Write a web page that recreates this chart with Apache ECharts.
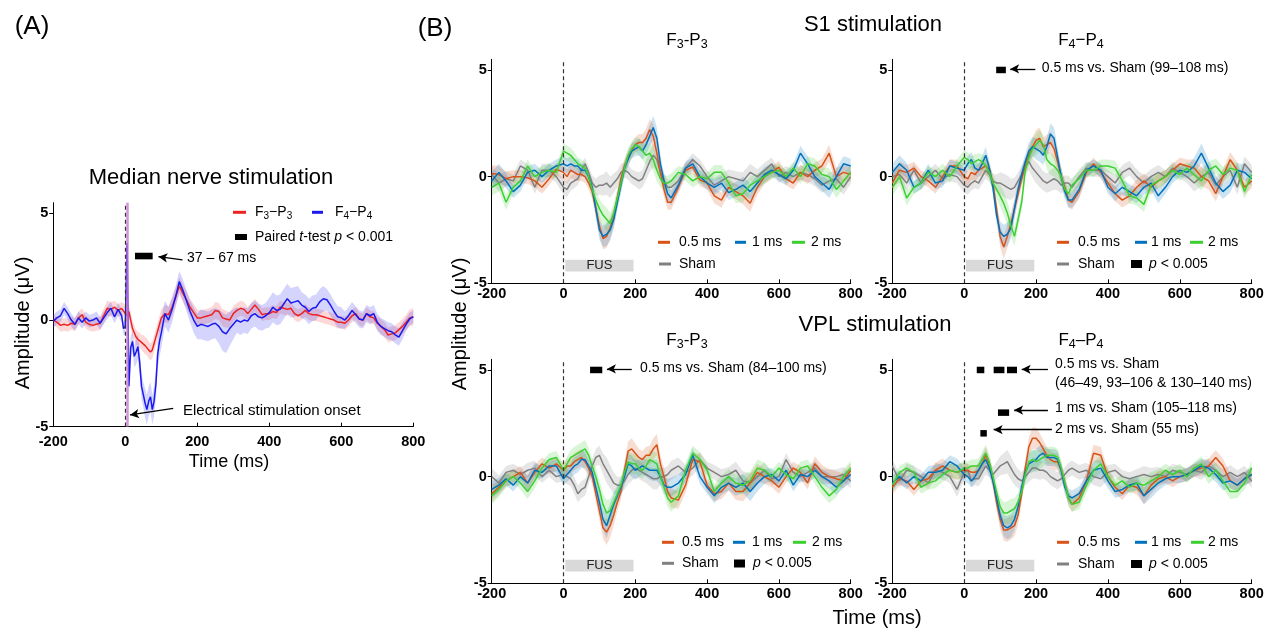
<!DOCTYPE html>
<html><head><meta charset="utf-8">
<script src="https://cdn.jsdelivr.net/npm/echarts@6/dist/echarts.min.js"></script>
<style>html,body{margin:0;padding:0;background:#fff}#c{width:1277px;height:628px}</style>
</head><body><div id="c"></div>
<script>
// ---------- Panel A: median nerve stimulation ----------
const timesA = [-200,-190,-180,-170,-160,-150,-140,-130,-120,-110,-100,-90,-80,-70,-60,-50,-40,-30,-20,-10,
  -5,0,5,10,15,20,25,30,35,40,45,50,55,60,65,70,75,80,85,90,95,100,
  110,120,130,140,150,160,170,180,190,200,210,220,230,240,250,260,270,280,290,300,
  310,320,330,340,350,360,370,380,390,400,410,420,430,440,450,460,470,480,490,500,
  510,520,530,540,550,560,570,580,590,600,610,620,630,640,650,660,670,680,690,700,
  710,720,730,740,750,760,770,780,790,800];
const medF3P3 = [0,-0.1,-0.25,-0.2,-0.25,-0.15,-0.2,0.1,0.25,-0.1,-0.2,-0.25,-0.2,-0.15,0.2,0.55,0.5,0.6,0.45,0.55,
  0.5,0.3,0.2,0.4,0.0,-0.4,-0.6,-0.8,-0.9,-0.95,-1.05,-1.1,-1.2,-1.25,-1.4,-1.5,-1.4,-1.1,-0.8,-0.5,-0.2,0.1,
  0.3,0.25,0.6,1.1,1.6,1.25,0.95,0.6,0.35,0.1,0.1,0.15,0.2,0.25,0.45,0.4,0.1,0.05,0.0,0.3,
  0.45,0.55,0.5,0.3,0.5,0.7,0.5,0.25,0.3,0.3,0.4,0.35,0.6,0.55,0.5,0.55,0.3,0.2,0.3,0.45,
  0.3,0.25,0.25,0.2,0.15,0.1,0.05,0.0,-0.1,-0.1,-0.15,0.0,0.2,0.3,0.05,0.0,0.3,0.15,0.1,-0.15,
  -0.3,-0.45,-0.7,-0.65,-0.6,-0.45,-0.3,-0.1,0.1,0.15];
const medF4P4 = [-0.05,0.1,0.2,0.55,0.3,0.0,-0.2,0.1,-0.1,0.1,-0.05,0.0,0.1,-0.15,0.1,0.35,0.55,0.15,0.5,0.2,
  -0.4,-0.3,3.6,-3.1,-1.3,-1.0,-1.7,-1.5,-1.25,-2.0,-3.1,-3.5,-3.9,-4.2,-3.8,-3.6,-4.2,-3.8,-3.0,-1.6,-1.0,-0.6,
  0.3,0.0,0.5,1.1,1.8,1.4,0.9,0.4,0.0,-0.3,-0.2,-0.25,-0.3,-0.2,-0.15,-0.3,-0.55,-0.65,-0.4,-0.2,
  0.0,-0.1,0.0,-0.05,0.2,0.3,0.15,0.1,0.2,0.35,0.6,0.45,0.5,0.75,1.0,0.8,0.85,0.9,0.7,0.6,
  0.4,0.55,0.6,0.85,1.0,0.95,0.7,0.4,0.15,0.1,0.0,0.2,0.45,0.25,0.05,0.0,0.3,0.2,0.3,-0.1,
  -0.3,-0.4,-0.5,-0.55,-0.7,-0.8,-0.5,-0.2,0.05,0.15];
const semMedF3P3 = [0.25,0.25,0.3,0.3,0.3,0.3,0.3,0.3,0.3,0.3,0.3,0.3,0.3,0.3,0.35,0.35,0.35,0.3,0.3,0.3,
  0.3,0.3,0.35,0.35,0.35,0.35,0.35,0.35,0.35,0.35,0.35,0.4,0.4,0.4,0.4,0.4,0.4,0.4,0.4,0.4,0.4,0.4,
  0.4,0.4,0.4,0.4,0.4,0.4,0.4,0.4,0.4,0.4,0.35,0.35,0.35,0.35,0.4,0.4,0.4,0.4,0.35,0.35,
  0.35,0.35,0.35,0.3,0.3,0.3,0.3,0.3,0.3,0.3,0.3,0.3,0.3,0.3,0.3,0.3,0.3,0.3,0.3,0.3,
  0.3,0.3,0.3,0.3,0.3,0.3,0.3,0.3,0.3,0.3,0.3,0.3,0.3,0.3,0.3,0.3,0.3,0.3,0.3,0.3,
  0.35,0.35,0.35,0.35,0.35,0.35,0.35,0.35,0.4,0.4];
const semMedF4P4 = [0.3,0.3,0.3,0.3,0.3,0.3,0.3,0.3,0.3,0.3,0.3,0.3,0.3,0.3,0.3,0.3,0.3,0.3,0.3,0.3,
  0.3,0.4,0.5,0.5,0.5,0.5,0.5,0.6,0.6,0.6,0.6,0.6,0.7,0.7,0.7,0.7,0.7,0.7,0.7,0.7,0.7,0.7,
  0.6,0.6,0.6,0.5,0.5,0.5,0.5,0.5,0.6,0.6,0.7,0.7,0.7,0.7,0.7,0.8,0.9,0.9,0.8,0.7,
  0.6,0.6,0.6,0.6,0.6,0.6,0.6,0.6,0.6,0.7,0.7,0.7,0.7,0.7,0.7,0.7,0.7,0.7,0.6,0.6,
  0.6,0.6,0.6,0.6,0.6,0.5,0.5,0.5,0.5,0.5,0.4,0.4,0.4,0.4,0.4,0.4,0.4,0.4,0.4,0.4,
  0.4,0.4,0.4,0.4,0.4,0.4,0.4,0.3,0.3,0.3];
const sigMed = [[27, 76, 3.0]];

// ---------- Panel B: FUS stimulation ----------
const timesB = [-200,-180,-160,-140,-120,-100,-80,-60,-40,-20,
  0,10,20,30,40,50,60,70,80,90,100,110,120,130,140,150,160,170,180,190,200,210,220,230,240,250,260,270,280,290,300,
  320,340,360,380,400,420,440,460,480,500,520,540,560,580,600,620,640,660,680,700,720,740,760,780,800];

// S1 stimulation, F3-P3
const s1F3_05 = [0.15,0.1,-0.1,0.0,0.0,-0.05,-0.2,-0.5,-0.1,0.35,
  0.2,0.0,0.3,0.2,0.1,0.1,0.0,-0.3,-0.7,-1.5,-2.3,-2.9,-2.8,-2.4,-1.9,-1.0,-0.1,0.5,0.9,1.2,1.5,1.6,1.6,1.8,2.2,1.9,1.1,0.2,-0.6,-1.2,-1.2,
  -0.5,0.3,0.45,-0.15,-0.3,-0.9,-1.1,-0.5,-0.7,-0.9,-1.25,-0.5,0.0,0.2,0.45,-0.1,-0.3,0.2,0.0,0.3,0.5,1.1,0.0,0.2,0.1];
const s1F3_1 = [-0.2,0.2,-0.2,-0.7,-0.4,0.2,0.3,0.0,0.3,0.5,
  0.6,0.5,0.6,0.5,0.5,0.3,0.3,0.0,-0.5,-1.5,-2.5,-2.8,-2.7,-2.5,-2.0,-1.2,-0.4,0.4,0.8,1.2,1.3,1.4,1.2,1.5,1.9,2.3,1.8,0.6,-0.2,-0.8,-1.0,
  -0.4,0.4,0.6,0.0,-0.3,-0.5,-0.3,-0.75,-0.6,-0.4,-0.7,-0.3,0.1,0.3,0.1,-0.1,0.3,1.1,0.6,0.0,-0.3,-0.6,0.0,0.6,0.5];
const s1F3_2 = [-0.5,-0.3,-1.2,-0.5,-0.2,0.5,0.0,0.2,0.3,0.2,
  1.2,1.1,1.0,0.8,0.6,0.5,0.4,0.0,-0.6,-1.1,-1.5,-1.8,-2.0,-2.2,-1.7,-1.0,-0.3,0.4,1.0,1.3,1.5,1.4,1.2,1.0,1.1,0.8,0.3,-0.1,-0.3,-0.3,-0.2,
  0.2,0.1,-0.2,0.0,-0.1,0.2,0.2,-0.3,-0.9,-0.8,-0.4,-0.2,0.0,0.2,0.3,0.0,0.4,0.0,0.6,0.5,0.1,0.0,-0.6,-0.2,0.2];
const s1F3_sham = [0.1,-0.3,-0.1,-0.2,0.5,0.3,-0.5,0.3,0.3,0.0,
  -0.5,-0.6,-0.3,-0.2,-0.1,0.3,0.6,0.2,-0.3,-0.5,-0.4,-0.4,-0.3,-0.5,-0.3,-0.1,0.2,0.3,0.2,0.0,-0.1,-0.2,-0.1,0.3,0.7,1.0,0.8,0.2,-0.2,-0.5,-0.5,
  -0.2,0.4,0.8,0.5,0.0,-0.4,-0.2,0.0,-0.1,-0.2,0.2,0.0,0.3,0.6,0.0,0.2,0.0,0.2,0.1,-0.1,-0.4,-0.2,-0.1,-0.5,0.0];
const s1F3_sem = [0.4,0.4,0.35,0.3,0.3,0.3,0.3,0.3,0.3,0.3,
  0.35,0.35,0.35,0.35,0.3,0.3,0.3,0.3,0.35,0.4,0.45,0.5,0.55,0.5,0.45,0.4,0.4,0.35,0.35,0.35,0.35,0.4,0.4,0.45,0.5,0.55,0.5,0.4,0.35,0.35,0.35,
  0.3,0.3,0.3,0.3,0.3,0.35,0.35,0.35,0.35,0.4,0.4,0.35,0.35,0.3,0.3,0.3,0.3,0.35,0.35,0.35,0.35,0.4,0.4,0.35,0.35];

// S1 stimulation, F4-P4
const s1F4_05 = [-0.3,0.3,0.2,0.4,0.0,-0.2,-0.5,0.0,0.5,0.5,
  0.0,-0.1,0.2,0.1,0.3,0.4,0.5,0.3,-0.3,-1.5,-2.8,-3.3,-2.8,-2.2,-1.5,-0.8,-0.1,0.5,1.0,1.4,1.7,1.8,1.4,1.5,1.6,1.3,0.7,0.0,-0.5,-1.1,-1.2,
  -0.7,0.2,0.6,0.2,-0.3,-0.8,-1.1,-0.9,-0.5,-0.2,-0.5,-0.2,0.0,0.3,0.6,0.5,0.4,0.0,-0.2,-0.8,0.0,0.8,0.3,-0.5,-0.2];
const s1F4_1 = [0.2,0.6,0.3,-0.5,-0.3,0.3,-0.3,-0.2,0.5,0.4,
  0.3,0.6,0.8,0.4,0.3,0.6,1.0,0.4,-0.5,-1.8,-2.6,-2.8,-2.7,-2.4,-1.5,-0.6,0.1,0.7,1.2,1.4,1.3,1.2,1.0,1.4,2.0,1.8,0.9,0.0,-0.7,-1.1,-1.1,
  -0.6,0.3,0.5,0.3,-0.5,-0.8,-0.5,-0.7,-0.9,-0.5,-0.3,-0.9,-0.5,0.0,0.3,0.2,0.5,1.1,0.4,-0.3,-0.7,-0.4,0.3,0.2,-0.1];
const s1F4_2 = [-0.5,0.0,-1.0,-0.5,-0.3,0.2,0.0,0.3,0.0,0.5,
  0.9,0.8,0.6,0.7,0.8,0.7,0.5,0.2,-0.3,-0.6,-0.9,-1.25,-1.7,-2.3,-2.8,-2.0,-1.2,0.3,0.9,1.3,1.5,1.7,1.5,0.8,0.6,0.5,0.3,0.0,-0.6,-0.8,-0.4,
  -0.1,0.3,0.3,0.5,0.5,0.4,-0.2,-0.9,-1.0,-1.3,-0.4,-0.2,0.0,0.3,0.1,0.4,0.1,-0.2,0.3,0.5,0.1,0.4,0.3,-0.7,0.1];
const s1F4_sham = [0.0,0.1,-0.3,0.3,-0.3,0.0,0.3,-0.1,0.1,0.0,
  -0.4,-0.5,-0.3,-0.2,-0.3,0.0,0.3,0.1,-0.2,-0.3,-0.3,-0.4,-0.5,-0.6,-0.5,-0.2,0.1,0.5,0.7,0.4,0.2,0.0,-0.2,-0.3,-0.2,-0.1,-0.2,-0.4,-0.3,-0.3,-0.5,
  0.0,0.4,0.3,0.3,0.0,-0.3,0.2,0.4,0.0,-0.3,0.0,0.2,0.0,0.4,0.2,0.0,-0.3,0.0,0.2,-0.4,0.0,0.3,-0.5,0.6,0.2];
const s1F4_sem = [0.4,0.4,0.35,0.3,0.3,0.3,0.3,0.3,0.3,0.3,
  0.35,0.35,0.35,0.35,0.3,0.35,0.4,0.35,0.35,0.4,0.5,0.55,0.55,0.5,0.45,0.4,0.4,0.35,0.4,0.45,0.5,0.5,0.45,0.45,0.5,0.5,0.45,0.4,0.35,0.35,0.35,
  0.35,0.3,0.3,0.3,0.3,0.35,0.35,0.35,0.35,0.35,0.35,0.35,0.3,0.3,0.3,0.3,0.4,0.45,0.4,0.35,0.35,0.35,0.35,0.35,0.35];

// VPL stimulation, F3-P3
const vplF3_05 = [-0.8,-0.5,-0.2,0.0,0.2,-0.3,0.2,0.6,0.4,0.6,
  0.3,0.5,0.5,0.7,0.8,0.9,0.7,0.4,0.0,-0.8,-1.6,-2.4,-2.6,-2.3,-1.8,-1.2,-0.7,0.3,1.2,1.3,1.1,0.9,0.8,1.0,1.0,1.3,1.5,0.6,0.0,-0.7,-1.0,
  -1.1,-0.4,0.8,0.7,-0.4,-0.8,-0.7,-0.3,-0.7,-0.7,-0.3,0.2,0.0,-0.2,-0.5,0.0,0.4,0.2,-0.3,0.6,0.2,0.0,-0.1,-0.2,0.3];
const vplF3_1 = [-0.6,-0.4,-0.1,-0.4,0.0,-0.3,0.3,0.2,0.5,0.5,
  -0.1,0.1,0.3,0.5,0.6,0.8,0.8,0.5,0.2,-0.5,-1.2,-2.0,-2.3,-1.8,-1.3,-0.9,-0.5,0.0,0.6,0.5,0.3,0.4,0.5,0.4,0.3,0.3,0.3,0.0,-0.4,-0.5,-0.5,
  -0.3,0.1,1.0,0.0,-0.5,-0.9,-0.5,-0.3,-0.5,-0.3,-0.7,-0.3,0.0,0.1,-0.2,0.3,-0.4,0.1,0.0,0.3,0.0,-0.2,-0.5,-0.2,0.1];
const vplF3_2 = [-0.9,-0.6,-0.2,0.0,-0.3,-0.7,-0.2,0.4,0.8,0.9,
  0.3,0.6,0.9,1.0,1.1,1.2,1.3,1.0,0.5,0.0,-0.6,-1.3,-1.7,-1.6,-1.2,-0.8,-0.4,0.2,0.7,0.6,0.6,0.4,0.3,0.5,0.8,0.7,0.6,0.0,-0.5,-1.0,-1.2,
  -0.9,0.3,1.1,0.8,0.3,-0.7,-0.3,0.0,-0.3,-0.4,-0.2,0.4,0.3,0.0,0.4,0.1,-0.1,0.4,0.5,0.0,-0.5,-0.9,-0.6,0.0,0.4];
const vplF3_sham = [0.0,-0.3,0.2,0.3,0.1,0.3,0.4,0.0,0.3,0.0,
  0.1,0.0,-0.1,-0.4,-0.8,-0.6,-0.5,0.0,0.5,0.9,1.0,0.6,0.3,0.0,-0.3,-0.4,-0.4,-0.2,0.1,0.3,0.4,0.3,0.2,0.1,0.0,-0.1,-0.1,0.0,0.0,0.1,0.3,
  0.5,0.2,0.4,0.8,0.4,0.2,0.0,0.1,0.3,-0.2,-0.3,0.0,0.3,-0.1,0.0,0.8,0.2,0.0,0.2,0.4,0.0,0.0,0.0,0.1,-0.2];
const vplF3_sem = [0.4,0.35,0.3,0.3,0.3,0.35,0.35,0.3,0.3,0.3,
  0.3,0.35,0.35,0.4,0.4,0.4,0.4,0.35,0.35,0.4,0.45,0.5,0.6,0.55,0.5,0.4,0.4,0.4,0.45,0.5,0.45,0.4,0.4,0.4,0.45,0.5,0.5,0.4,0.4,0.4,0.45,
  0.4,0.35,0.35,0.35,0.3,0.35,0.35,0.35,0.4,0.45,0.45,0.4,0.35,0.3,0.3,0.3,0.3,0.3,0.3,0.35,0.35,0.35,0.35,0.35,0.35];

// VPL stimulation, F4-P4
const vplF4_05 = [-0.5,-0.1,-0.2,-0.6,-0.2,-0.1,0.3,0.5,0.3,0.2,
  0.3,0.3,0.2,0.2,0.3,0.6,1.0,0.6,-0.2,-1.2,-2.0,-2.5,-2.5,-2.4,-2.3,-1.8,-0.8,0.4,1.4,1.8,1.8,1.6,1.3,1.0,0.8,0.7,0.7,0.3,-0.3,-1.0,-1.3,
  -1.0,-0.2,1.1,1.0,0.0,-0.5,-0.8,-0.4,-0.5,-0.9,-0.4,-0.1,0.0,-0.2,0.0,0.1,0.3,0.4,0.5,0.9,0.5,-0.2,-0.4,-0.1,0.1];
const vplF4_1 = [-0.3,0.0,-0.3,0.0,-0.2,0.2,0.2,0.3,0.7,0.5,
  0.1,0.0,-0.2,0.0,0.3,0.6,0.8,0.4,-0.2,-1.0,-1.8,-2.3,-2.4,-2.3,-2.0,-1.4,-0.5,0.2,0.6,0.7,0.8,1.0,1.1,0.9,0.9,0.9,0.8,0.3,-0.5,-0.9,-1.0,
  -0.8,-0.2,0.3,0.4,-0.2,-0.7,-0.6,-0.4,-0.3,-0.9,-0.6,-0.3,-0.1,0.0,0.0,0.1,0.3,0.5,0.4,0.1,-0.3,-0.2,-0.4,-0.1,0.1];
const vplF4_2 = [-0.4,0.2,0.4,0.2,-0.5,-0.3,-0.2,0.1,0.3,0.2,
  0.4,0.4,0.5,0.5,0.5,0.8,1.1,0.7,0.0,-0.7,-1.4,-1.7,-1.7,-1.6,-1.5,-1.2,-0.7,0.1,0.7,0.8,0.7,0.8,0.9,1.0,1.0,1.0,0.9,0.4,-0.3,-1.0,-1.3,
  -1.2,-0.4,0.3,0.6,0.0,-0.4,-0.2,-0.5,-0.3,-0.4,-0.2,0.0,0.3,0.1,0.3,0.0,0.4,0.6,0.0,0.3,-0.2,-0.7,-0.7,-0.3,0.4];
const vplF4_sham = [0.5,-0.2,0.3,0.2,0.0,-0.3,0.3,0.2,0.0,-0.6,
  0.2,0.3,-0.2,-0.1,-0.1,0.2,0.5,0.3,0.1,0.3,0.5,0.6,0.7,0.4,0.1,-0.1,-0.2,0.0,0.2,0.4,0.4,0.3,0.3,0.2,0.0,-0.1,-0.2,-0.1,0.1,0.3,0.4,
  0.2,0.3,0.0,-0.1,0.2,0.3,0.0,-0.1,0.0,0.1,0.0,0.1,0.0,0.3,0.2,0.1,0.3,0.2,0.5,0.3,0.0,0.2,0.0,0.2,-0.2];
const vplF4_sem = [0.35,0.3,0.3,0.3,0.3,0.3,0.35,0.35,0.3,0.35,
  0.35,0.3,0.3,0.3,0.35,0.4,0.4,0.35,0.35,0.4,0.45,0.5,0.55,0.55,0.5,0.45,0.4,0.4,0.45,0.5,0.5,0.45,0.4,0.4,0.4,0.4,0.4,0.35,0.35,0.35,0.35,
  0.35,0.35,0.4,0.4,0.35,0.3,0.3,0.3,0.35,0.4,0.4,0.35,0.3,0.3,0.3,0.3,0.3,0.35,0.35,0.35,0.35,0.35,0.3,0.3,0.35];

// significance bars [start ms, end ms, amplitude]
const sigS1F4 = [[89, 116, 5.0]];
const sigVplF3 = [[74, 108, 5.0]];
const sigVplF4 = [[35, 56, 5.0], [82, 112, 5.0], [119, 147, 5.0], [94, 125, 3.0], [45, 63, 2.03]];
const fusWindow = [5, 195];
const yTicks = [-5, 0, 5];

// ---------- rendering ----------
const FONT = '"Liberation Sans", Arial, Helvetica, sans-serif';
const C = {o:'#D95319', b:'#0072BD', g:'#3CCF32', s:'#808080', rA:'#EE2222', bA:'#1A1AF0'};
const F = {o:'rgba(217,83,25,0.2)', b:'rgba(0,114,189,0.2)', g:'rgba(60,207,50,0.2)', s:'rgba(128,128,128,0.2)',
  rA:'rgba(238,60,60,0.2)', bA:'rgba(60,60,240,0.22)'};

const grids = [
  {left:53.3, top:202.7, width:360, height:224},
  {left:491.7, top:59.3, width:359, height:224},
  {left:892.3, top:59.3, width:359.4, height:224},
  {left:491.7, top:359.3, width:359, height:224},
  {left:892.3, top:359.3, width:359.4, height:224}
];

function xAx(gi, margin) {
  return {type:'value', gridIndex:gi, min:-200, max:800, interval:200,
    axisLine:{onZero:false, lineStyle:{color:'#000', width:1}},
    axisTick:{inside:true, length:4, lineStyle:{color:'#000'}},
    axisLabel:{color:'#000', fontSize:14.5, fontWeight:'bold', fontFamily:FONT, margin:margin},
    splitLine:{show:false}};
}
function yAx(gi) {
  return {type:'value', gridIndex:gi, min:-5, max:5.5, interval:5,
    axisLine:{show:true, onZero:false, lineStyle:{color:'#000', width:1}},
    axisTick:{show:true, length:4, lineStyle:{color:'#000'}, customValues:yTicks},
    axisLabel:{color:'#000', fontSize:14.5, fontWeight:'bold', fontFamily:FONT, margin:5, customValues:yTicks,
      formatter: v => (yTicks.indexOf(v) >= 0 ? String(v) : '')},
    splitLine:{show:false}};
}

function band(gi, t, m, s, fill) {
  return {type:'custom', xAxisIndex:gi, yAxisIndex:gi, data:[[0, 0]], encode:{x:0, y:1},
    silent:true, animation:false, z:1,
    renderItem: function (p, api) {
      const n = Math.min(t.length, m.length, s.length);
      const pts = [];
      for (let i = 0; i < n; i++) pts.push(api.coord([t[i], m[i] + s[i]]));
      for (let i = n - 1; i >= 0; i--) pts.push(api.coord([t[i], m[i] - s[i]]));
      return {type:'polygon', shape:{points:pts}, style:{fill:fill}};
    }};
}
function line(gi, name, t, m, color, extra) {
  const n = Math.min(t.length, m.length);
  const d = [];
  for (let i = 0; i < n; i++) d.push([t[i], m[i]]);
  return Object.assign({type:'line', name:name, xAxisIndex:gi, yAxisIndex:gi, data:d,
    showSymbol:false, symbol:'none', silent:true, animation:false, z:3,
    lineStyle:{color:color, width:1.5}, itemStyle:{color:color}}, extra || {});
}
function sig(gi, bars, h) {
  return {type:'custom', xAxisIndex:gi, yAxisIndex:gi, data:bars, encode:{x:[0, 1], y:2},
    silent:true, animation:false, z:6,
    renderItem: function (p, api) {
      const a = api.coord([api.value(0), api.value(2)]);
      const b = api.coord([api.value(1), api.value(2)]);
      return {type:'rect', shape:{x:a[0], y:a[1] - h / 2, width:b[0] - a[0], height:h}, style:{fill:'#000'}};
    }};
}
const dashed0 = {xAxis:0, lineStyle:{color:'#333', width:1.2, type:[4, 3]}};
function zeroLine(extra) {
  return {silent:true, symbol:'none', animation:false, label:{show:false},
    data: extra ? extra.concat([dashed0]) : [dashed0]};
}
function arrows(list) {
  return {silent:true, symbol:['none', 'arrow'], symbolSize:[7, 9], animation:false, label:{show:false},
    lineStyle:{color:'#000', width:1.3, type:'solid'},
    data: list.map(a => [{coord:[a[0], a[1]]}, {coord:[a[2], a[3]]}])};
}
function fusArea() {
  return {silent:true, animation:false, itemStyle:{color:'#d9d9d9'},
    label:{show:true, position:'inside', color:'#222', fontSize:13, fontFamily:FONT},
    data:[[{name:'FUS', xAxis:fusWindow[0], yAxis:-3.9}, {xAxis:fusWindow[1], yAxis:-4.45}]]};
}

const series = [];
// Panel A
series.push(band(0, timesA, medF3P3, semMedF3P3, F.rA));
series.push(band(0, timesA, medF4P4, semMedF4P4, F.bA));
series.push(line(0, 'F3-P3', timesA, medF3P3, C.rA, {markLine: zeroLine([{xAxis:6, lineStyle:{color:'rgba(200,120,210,0.8)', width:2.5, type:'solid'}}])}));
series.push(line(0, 'F4-P4', timesA, medF4P4, C.bA, {markLine: arrows([[159, 2.82, 92, 2.97], [133, -4.14, 13, -4.45]])}));
series.push(sig(0, sigMed, 6.6));

// Panel B
const panelsB = [
  {gi:1, d:[s1F3_sham, s1F3_05, s1F3_1, s1F3_2], sem:s1F3_sem, sig:null, arr:[]},
  {gi:2, d:[s1F4_sham, s1F4_05, s1F4_1, s1F4_2], sem:s1F4_sem, sig:sigS1F4, arr:[[198, 5.05, 128, 5.05]]},
  {gi:3, d:[vplF3_sham, vplF3_05, vplF3_1, vplF3_2], sem:vplF3_sem, sig:sigVplF3, arr:[[190, 5.05, 121, 5.05]]},
  {gi:4, d:[vplF4_sham, vplF4_05, vplF4_1, vplF4_2], sem:vplF4_sem, sig:sigVplF4,
    arr:[[233, 5.03, 160, 5.03], [233, 3.12, 139, 3.12], [244, 2.2, 82, 2.2]]}
];
const names = ['Sham', '0.5 ms', '1 ms', '2 ms'];
const lc = [C.s, C.o, C.b, C.g], fc = [F.s, F.o, F.b, F.g];
panelsB.forEach(p => {
  for (let k = 0; k < 4; k++) series.push(band(p.gi, timesB, p.d[k], p.sem, fc[k]));
  for (let k = 0; k < 4; k++) {
    let extra = {};
    if (k === 0) extra = {markLine: zeroLine(), markArea: fusArea()};
    if (k === 1 && p.arr.length) extra = {markLine: arrows(p.arr)};
    series.push(line(p.gi, names[k], timesB, p.d[k], lc[k], extra));
  }
  if (p.sig) series.push(sig(p.gi, p.sig, 6.5));
});

// ---------- text & legends ----------
const T = (x, y, text, size, opt, el) => Object.assign({type:'text', x:x, y:y, silent:true, z:100,
  style:Object.assign({text:text, fontSize:size, fontFamily:FONT, fill:'#000', align:'left', verticalAlign:'middle'}, opt || {})}, el || {});
const R = (x, y, w, h, fill) => ({type:'rect', silent:true, z:100, shape:{x:x, y:y, width:w, height:h}, style:{fill:fill}});
const italic = {i:{fontStyle:'italic', fontSize:14, fontFamily:FONT, fill:'#000'}};
function sub(size, sz) {
  return {n:{fontSize:size, fontFamily:FONT, fill:'#000', lineHeight:Math.round(size * 1.3)},
          s:{fontSize:sz, fontFamily:FONT, fill:'#000', lineHeight:Math.round(sz * 0.8), verticalAlign:'bottom'}};
}
function chTitle(x, y, a, dash) {
  return T(x, y, '{n|F}{s|' + a + '}{n|' + dash + 'P}{s|' + a + '}', 17, {align:'center', rich:sub(17, 12.5)});
}
function legRow(y, items) {
  const out = [];
  items.forEach(it => {
    out.push(R(it[0], y - 1.5, it[1], 3, it[3]));
    out.push(T(it[2], y, it[4], 14));
  });
  return out;
}
const els = [
  T(32, 27, '(A)', 26, {align:'center'}),
  T(435, 29, '(B)', 26, {align:'center'}),
  T(211, 178, 'Median nerve stimulation', 22, {align:'center'}),
  T(873, 25, 'S1 stimulation', 22, {align:'center'}),
  T(875, 325, 'VPL stimulation', 22, {align:'center'}),
  T(23, 323, 'Amplitude (μV)', 20, {align:'center'}, {rotation:Math.PI / 2}),
  T(460, 324, 'Amplitude (μV)', 20, {align:'center'}, {rotation:Math.PI / 2}),
  T(229, 462, 'Time (ms)', 18, {align:'center'}),
  T(877, 618, 'Time (ms)', 20, {align:'center'}),
  chTitle(687, 40, 3, '-'), chTitle(1081, 40, 4, '−'),
  chTitle(687, 340, 3, '-'), chTitle(1081, 340, 4, '–'),
  // panel A legend and notes
  R(233, 210.8, 13, 3, C.rA),
  T(255, 212.3, '{n|F}{s|3}{n|−P}{s|3}', 14, {rich:sub(14, 10)}),
  R(312, 210.8, 11, 3, C.bA),
  T(335, 212.3, '{n|F}{s|4}{n|−P}{s|4}', 14, {rich:sub(14, 10)}),
  R(235, 234, 12, 6, '#000'),
  T(255, 236.7, 'Paired {i|t}-test {i|p} < 0.001', 14, {rich:italic}),
  T(187, 258.3, '37 – 67 ms', 14),
  T(183, 410.7, 'Electrical stimulation onset', 15),
  // panel B notes
  T(1041.7, 68.3, '0.5 ms vs. Sham (99–108 ms)', 14),
  T(640, 368.3, '0.5 ms vs. Sham (84–100 ms)', 14),
  T(1055, 364.3, '0.5 ms vs. Sham', 14),
  T(1055, 382.7, '(46–49, 93–106 & 130–140 ms)', 14),
  T(1055, 408.3, '1 ms vs. Sham (105–118 ms)', 14),
  T(1055, 429, '2 ms vs. Sham (55 ms)', 14)
];
// B legends
const pTxt = (x, y) => T(x, y, '{i|p} < 0.005', 14, {rich:italic});
[].push.apply(els, legRow(242.3, [[658, 12, 679, C.o, '0.5 ms'], [735, 11, 752, C.b, '1 ms'], [792, 13, 811, C.g, '2 ms']]));
[].push.apply(els, legRow(264, [[659, 12, 679, C.s, 'Sham']]));
[].push.apply(els, legRow(242.3, [[1057, 12, 1078, C.o, '0.5 ms'], [1135, 12, 1151, C.b, '1 ms'], [1190, 13, 1208, C.g, '2 ms']]));
[].push.apply(els, legRow(264, [[1057, 12, 1078, C.s, 'Sham']]));
els.push(R(1131, 260, 11, 8, '#000'), pTxt(1149, 264));
[].push.apply(els, legRow(542.3, [[662, 12, 682, C.o, '0.5 ms'], [733, 12, 752, C.b, '1 ms'], [793, 13, 812, C.g, '2 ms']]));
[].push.apply(els, legRow(563.3, [[662, 12, 682, C.s, 'Sham']]));
els.push(R(734, 559.5, 11, 8, '#000'), pTxt(753, 563.3));
[].push.apply(els, legRow(542.3, [[1057, 12, 1078, C.o, '0.5 ms'], [1135, 12, 1151, C.b, '1 ms'], [1191, 13, 1208, C.g, '2 ms']]));
[].push.apply(els, legRow(564, [[1057, 12, 1078, C.s, 'Sham']]));
els.push(R(1131, 560, 11, 8, '#000'), pTxt(1149, 564));

const chart = echarts.init(document.getElementById('c'));
chart.setOption({
  backgroundColor:'#fff',
  animation:false,
  textStyle:{fontFamily:FONT},
  grid: grids,
  xAxis: [xAx(0, 8), xAx(1, 3), xAx(2, 3), xAx(3, 3), xAx(4, 3)],
  yAxis: [yAx(0), yAx(1), yAx(2), yAx(3), yAx(4)],
  series: series,
  graphic: {elements: els}
});
</script></body></html>
